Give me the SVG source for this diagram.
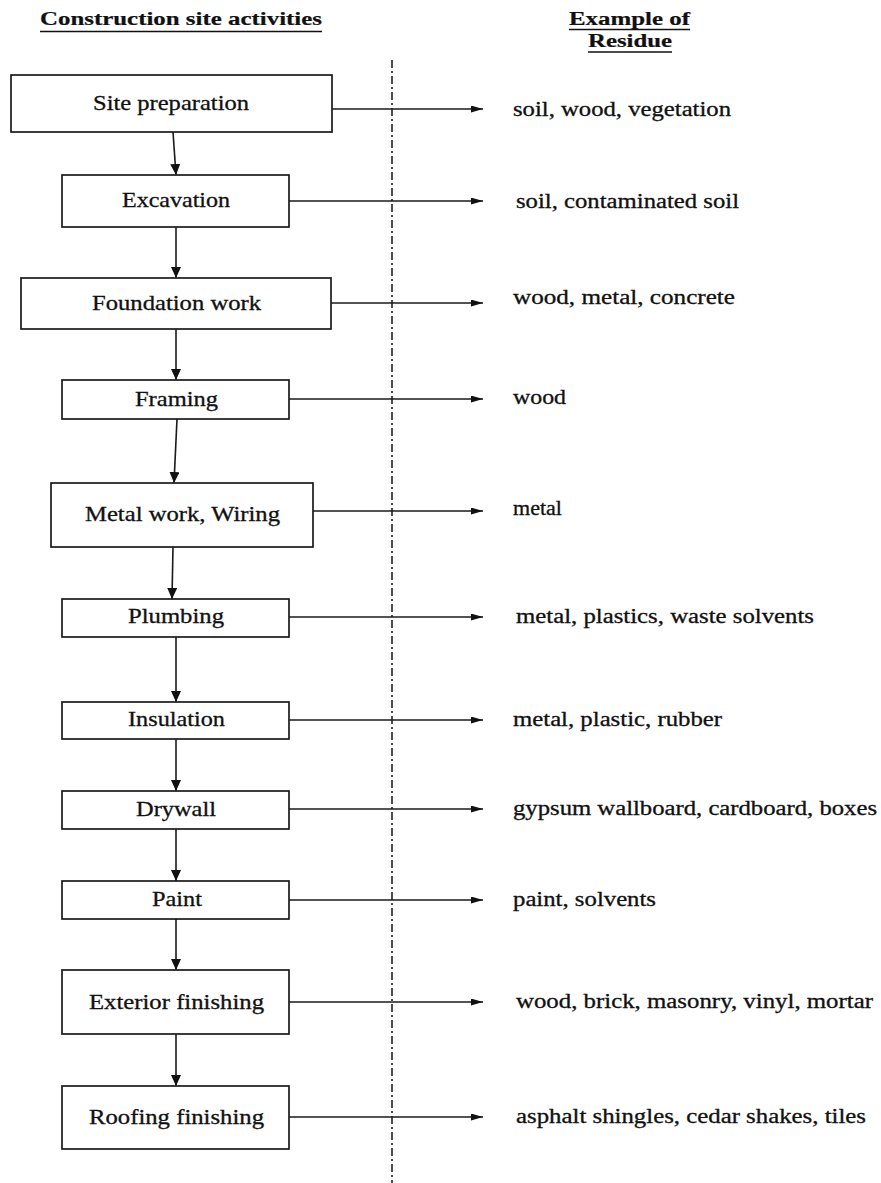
<svg xmlns="http://www.w3.org/2000/svg" width="881" height="1183" viewBox="0 0 881 1183" font-family="'Liberation Serif', 'Times New Roman', serif">
<style>
.box{fill:#fff;stroke:#1a1a1a;stroke-width:1.7}
text{font-family:'Liberation Serif','Times New Roman',Times,serif;fill:#111;stroke:#111;stroke-width:0.3}
.lbl{font-size:21px}
.res{font-size:20px}
.hdr{font-size:18px;font-weight:bold;stroke-width:0.2}
.con{stroke:#1a1a1a;stroke-width:1.6;fill:none}
.ul{stroke:#111;stroke-width:1.5}
</style>
<defs>
<marker id="ah" viewBox="0 0 12 10" refX="12" refY="5" markerWidth="12" markerHeight="7" markerUnits="userSpaceOnUse" orient="auto" preserveAspectRatio="none">
<path d="M0,0 L12,5 L0,10 Z" fill="#111"/>
</marker>
<marker id="av" viewBox="0 0 10 10" refX="10" refY="5" markerWidth="11" markerHeight="10" markerUnits="userSpaceOnUse" orient="auto" preserveAspectRatio="none">
<path d="M0,0 L10,5 L0,10 Z" fill="#111"/>
</marker>
</defs>
<rect width="881" height="1183" fill="#fff"/>

<g id="headers">
<text class="hdr" x="40" y="25" textLength="282" lengthAdjust="spacingAndGlyphs">Construction site activities</text>
<line class="ul" x1="40" y1="31.5" x2="322" y2="31.5"/>
<text class="hdr" x="569" y="25" textLength="121" lengthAdjust="spacingAndGlyphs">Example of</text>
<line class="ul" x1="569" y1="29.5" x2="690" y2="29.5"/>
<text class="hdr" x="588" y="47" textLength="84" lengthAdjust="spacingAndGlyphs">Residue</text>
<line class="ul" x1="588" y1="52" x2="672" y2="52"/>
</g>

<g id="divider">
<line x1="392" y1="60" x2="392" y2="1183" stroke="#222" stroke-width="1.6" stroke-dasharray="8,3,2,3"/>
</g>

<g id="connectors">
<line class="con" x1="173" y1="132" x2="176" y2="175" marker-end="url(#av)"/>
<line class="con" x1="176" y1="227" x2="176" y2="278" marker-end="url(#av)"/>
<line class="con" x1="176" y1="329" x2="176" y2="380" marker-end="url(#av)"/>
<line class="con" x1="177" y1="419" x2="174" y2="483" marker-end="url(#av)"/>
<line class="con" x1="173" y1="547" x2="172" y2="599" marker-end="url(#av)"/>
<line class="con" x1="176" y1="637" x2="176" y2="702" marker-end="url(#av)"/>
<line class="con" x1="176" y1="739" x2="176" y2="791" marker-end="url(#av)"/>
<line class="con" x1="176" y1="829" x2="176" y2="881" marker-end="url(#av)"/>
<line class="con" x1="176" y1="919" x2="176" y2="970" marker-end="url(#av)"/>
<line class="con" x1="176" y1="1034" x2="176" y2="1086" marker-end="url(#av)"/>

<line class="con" x1="332" y1="109" x2="483" y2="109" marker-end="url(#ah)"/>
<line class="con" x1="289" y1="201" x2="483" y2="201" marker-end="url(#ah)"/>
<line class="con" x1="331" y1="303" x2="483" y2="303" marker-end="url(#ah)"/>
<line class="con" x1="289" y1="399" x2="483" y2="399" marker-end="url(#ah)"/>
<line class="con" x1="313" y1="511" x2="483" y2="511" marker-end="url(#ah)"/>
<line class="con" x1="289" y1="617" x2="483" y2="617" marker-end="url(#ah)"/>
<line class="con" x1="289" y1="720" x2="483" y2="720" marker-end="url(#ah)"/>
<line class="con" x1="289" y1="809" x2="483" y2="809" marker-end="url(#ah)"/>
<line class="con" x1="289" y1="900" x2="483" y2="900" marker-end="url(#ah)"/>
<line class="con" x1="289" y1="1002" x2="483" y2="1002" marker-end="url(#ah)"/>
<line class="con" x1="289" y1="1117" x2="483" y2="1117" marker-end="url(#ah)"/>
</g>

<g id="n1"><rect class="box" x="11" y="75" width="321" height="57"/><text class="lbl" x="93" y="110" textLength="156" lengthAdjust="spacingAndGlyphs">Site preparation</text></g>
<g id="n2"><rect class="box" x="62" y="175" width="227" height="52"/><text class="lbl" x="122" y="207" textLength="108" lengthAdjust="spacingAndGlyphs">Excavation</text></g>
<g id="n3"><rect class="box" x="21" y="278" width="310" height="51"/><text class="lbl" x="92" y="310" textLength="169" lengthAdjust="spacingAndGlyphs">Foundation work</text></g>
<g id="n4"><rect class="box" x="62" y="380" width="227" height="39"/><text class="lbl" x="135" y="406" textLength="83" lengthAdjust="spacingAndGlyphs">Framing</text></g>
<g id="n5"><rect class="box" x="51" y="483" width="262" height="64"/><text class="lbl" x="85" y="521" textLength="195" lengthAdjust="spacingAndGlyphs">Metal work, Wiring</text></g>
<g id="n6"><rect class="box" x="62" y="599" width="227" height="38"/><text class="lbl" x="128" y="623" textLength="96" lengthAdjust="spacingAndGlyphs">Plumbing</text></g>
<g id="n7"><rect class="box" x="62" y="702" width="227" height="37"/><text class="lbl" x="128" y="726" textLength="97" lengthAdjust="spacingAndGlyphs">Insulation</text></g>
<g id="n8"><rect class="box" x="62" y="791" width="227" height="38"/><text class="lbl" x="136" y="816" textLength="80" lengthAdjust="spacingAndGlyphs">Drywall</text></g>
<g id="n9"><rect class="box" x="62" y="881" width="227" height="38"/><text class="lbl" x="152" y="906" textLength="50" lengthAdjust="spacingAndGlyphs">Paint</text></g>
<g id="n10"><rect class="box" x="62" y="970" width="227" height="64"/><text class="lbl" x="89" y="1009" textLength="175" lengthAdjust="spacingAndGlyphs">Exterior finishing</text></g>
<g id="n11"><rect class="box" x="62" y="1086" width="227" height="63"/><text class="lbl" x="89" y="1124" textLength="175" lengthAdjust="spacingAndGlyphs">Roofing finishing</text></g>

<g id="residues">
<text id="r1" class="res" x="513" y="116" textLength="218" lengthAdjust="spacingAndGlyphs">soil, wood, vegetation</text>
<text id="r2" class="res" x="516" y="208" textLength="223" lengthAdjust="spacingAndGlyphs">soil, contaminated soil</text>
<text id="r3" class="res" x="513" y="304" textLength="222" lengthAdjust="spacingAndGlyphs">wood, metal, concrete</text>
<text id="r4" class="res" x="513" y="404" textLength="53" lengthAdjust="spacingAndGlyphs">wood</text>
<text id="r5" class="res" x="513" y="515" textLength="49" lengthAdjust="spacingAndGlyphs">metal</text>
<text id="r6" class="res" x="516" y="623" textLength="298" lengthAdjust="spacingAndGlyphs">metal, plastics, waste solvents</text>
<text id="r7" class="res" x="513" y="726" textLength="209" lengthAdjust="spacingAndGlyphs">metal, plastic, rubber</text>
<text id="r8" class="res" x="513" y="815" textLength="364" lengthAdjust="spacingAndGlyphs">gypsum wallboard, cardboard, boxes</text>
<text id="r9" class="res" x="513" y="906" textLength="143" lengthAdjust="spacingAndGlyphs">paint, solvents</text>
<text id="r10" class="res" x="516" y="1008" textLength="357" lengthAdjust="spacingAndGlyphs">wood, brick, masonry, vinyl, mortar</text>
<text id="r11" class="res" x="516" y="1123" textLength="350" lengthAdjust="spacingAndGlyphs">asphalt shingles, cedar shakes, tiles</text>
</g>
</svg>
